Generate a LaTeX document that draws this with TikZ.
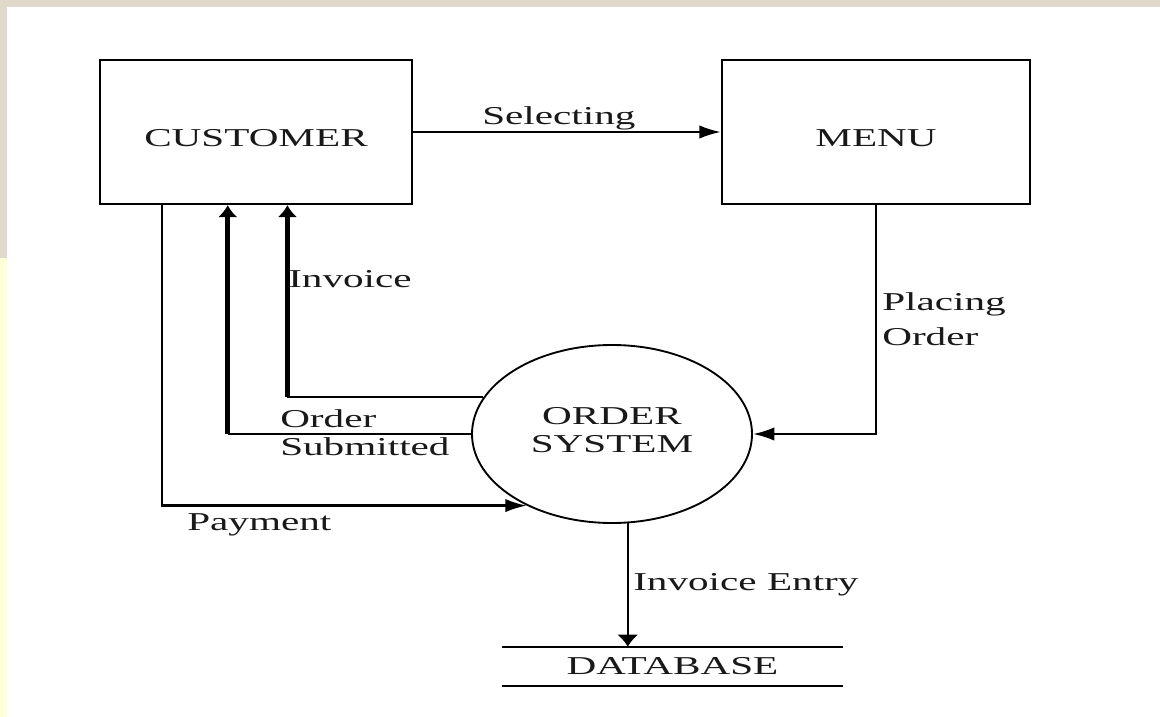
\documentclass[tikz,border=0pt]{standalone}
\usepackage{fontspec}
\setmainfont{Liberation Serif}[FakeStretch=1.6]
\usetikzlibrary{positioning,shapes.geometric,arrows.meta,calc}
\definecolor{paper}{RGB}{224,216,202}
\definecolor{strip}{RGB}{255,255,214}

\begin{document}
\begin{tikzpicture}[x=0.75pt,y=-0.75pt,
      every node/.style={font=\fontsize{19.3pt}{21pt}\selectfont,text=black!90},
      entity/.style={rectangle,draw,line width=1.8pt,minimum height=108pt,text height=21pt,text depth=0pt},
      process/.style={ellipse,draw,line width=1.4pt,minimum width=210pt,minimum height=133.5pt,inner sep=0pt,align=center,text depth=6pt},
      store/.style={rectangle,minimum width=255.75pt,minimum height=29.25pt,inner sep=0pt},
      lbl/.style={inner sep=0pt,anchor=base west,align=left},
      flow/.style={line width=1.7pt},
      harr/.style={flow,-{Latex[length=16pt,width=10pt]}},
      varr/.style={flow,-{Latex[length=9pt,width=16pt]}},
      back/.style={line width=4pt,-{Latex[length=9pt,width=15pt]}}
      ]
      % page
      \fill[paper] (0,0) rectangle (1160,717);
      \fill[white] (7,7) rectangle (1160,717);
      \fill[strip] (0,258) rectangle (7,717);
      % entities and process
      \node (cust) [entity,minimum width=234pt] at (256,132) {CUSTOMER};
      \node (menu) [entity,minimum width=231pt] at (876,132) {MENU};
      \node (ord)  [process] at (612,434) {ORDER\\SYSTEM};
      \node (db)   [store] at (672.5,666.5) {DATABASE};
      \draw[flow] (db.north west) -- (db.north east) (db.south west) -- (db.south east);
      \coordinate (pay) at ($(cust.south west)!0.2!(cust.south east)$);
      \coordinate (sub) at ($(cust.south west)!0.41!(cust.south east)$);
      \coordinate (inv) at ($(cust.south west)!0.6!(cust.south east)$);
      % flows
      \draw[harr] (cust) -- (menu);
      \draw[harr] (menu.south) |- (ord.east);
      \draw[flow] (ord.164) -- (ord.164 -| inv);
      \draw[back] (ord.164 -| inv) -- (inv);
      \draw[flow] (ord.west) -- (ord.west -| sub);
      \draw[back] (ord.west -| sub) -- (sub);
      \draw[harr] (pay) |- (ord.220);
      \draw[varr] (ord.280) -- (ord.280 |- db.north);
      % labels
      \node (l-sel)   [lbl] at (482,124) {Selecting};
      \node (l-place) [lbl,font=\fontsize{19.3pt}{26.25pt}\selectfont] at (882,345) {Placing\\Order};
      \node (l-inv)   [lbl] at (288,287) {Invoice};
      \node (l-sub)   [lbl] at (280,455) {Order\\Submitted};
      \node (l-pay)   [lbl] at (187,530) {Payment};
      \node (l-entry) [lbl] at (633,590) {Invoice Entry};
    \end{tikzpicture}
\end{document}
